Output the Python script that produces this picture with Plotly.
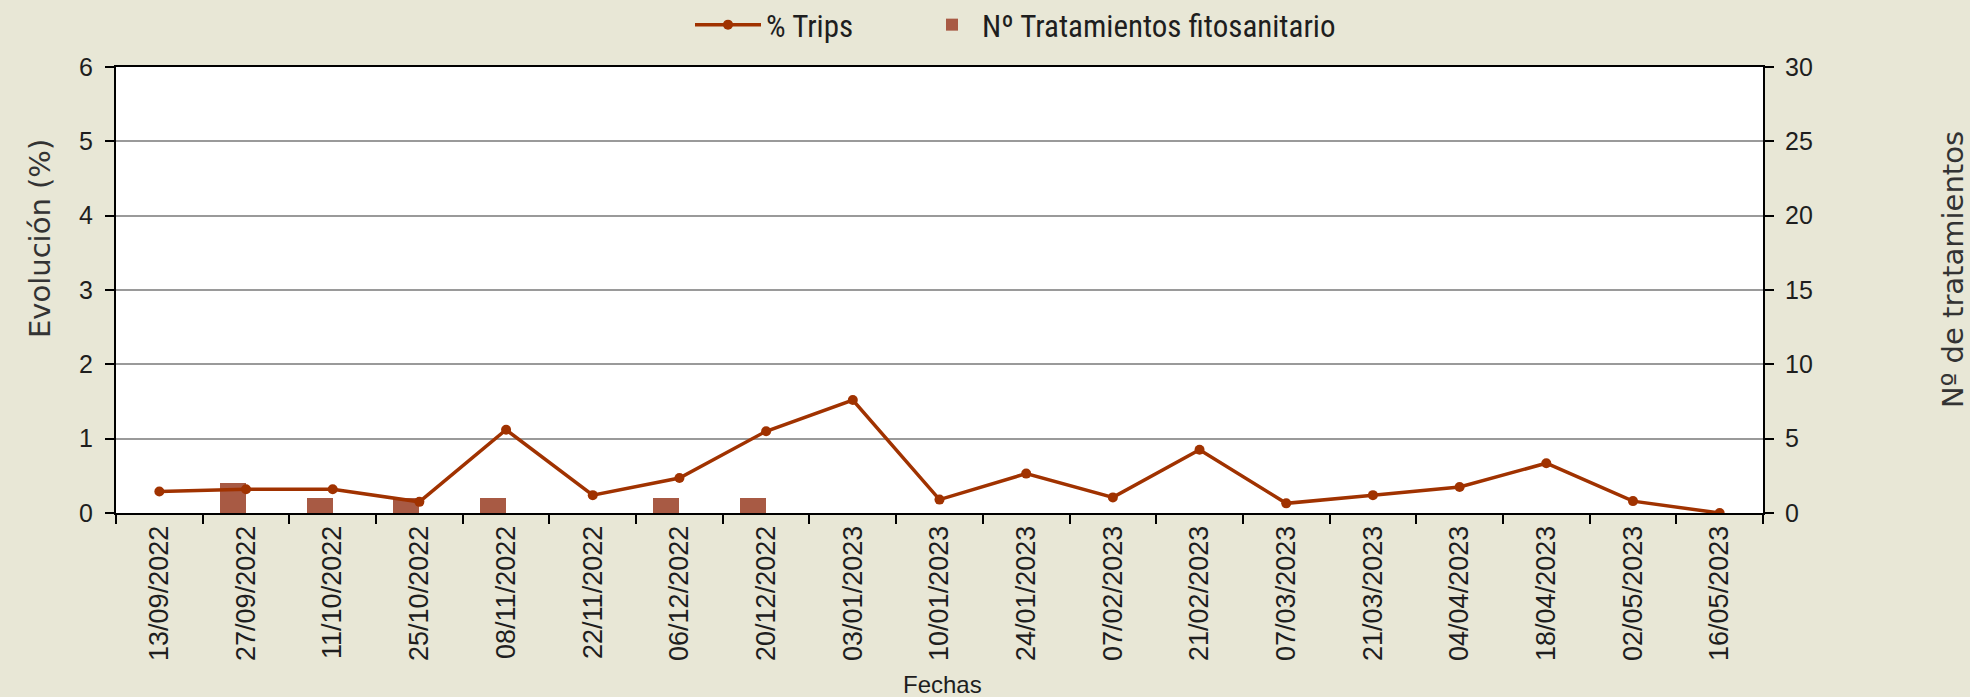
import plotly.graph_objects as go

fechas = ["13/09/2022", "27/09/2022", "11/10/2022", "25/10/2022", "08/11/2022",
          "22/11/2022", "06/12/2022", "20/12/2022", "03/01/2023", "10/01/2023",
          "24/01/2023", "07/02/2023", "21/02/2023", "07/03/2023", "21/03/2023",
          "04/04/2023", "18/04/2023", "02/05/2023", "16/05/2023"]
trips_pct = [0.29, 0.32, 0.32, 0.15, 1.12, 0.24, 0.47, 1.10, 1.52, 0.18,
             0.53, 0.21, 0.85, 0.13, 0.24, 0.35, 0.67, 0.16, 0.0]
tratamientos = [0, 2, 1, 1, 1, 0, 1, 1, 0, 0, 0, 0, 0, 0, 0, 0, 0, 0, 0]

BG = "#E8E7D6"
LINE_C = "#A03200"
BAR_C = "#A85A44"
TXT = "#1E1E1E"

L, R, T, B = 116, 207, 67, 184
W, H = 1970, 697

fig = go.Figure()
fig.add_trace(go.Bar(
    x=fechas, y=tratamientos, name="Nº Tratamientos fitosanitario",
    marker=dict(color=BAR_C, line=dict(width=0)),
    width=0.3, offset=-0.3, yaxis="y", xaxis="x", legend="legend2",
))
fig.add_trace(go.Scatter(
    x=fechas, y=trips_pct, name="% Trips", mode="lines+markers",
    line=dict(color=LINE_C, width=3.5),
    marker=dict(color=LINE_C, size=10),
    yaxis="y2", xaxis="x", legend="legend",
))

tick_font = dict(family="Liberation Sans, Arial, sans-serif", size=25, color=TXT)
legend_font = dict(family="Liberation Sans Narrow, Roboto Condensed, Arial Narrow, sans-serif",
                   size=31, color=TXT)

pw = W - L - R
ph = H - T - B


def px2paper(px, py):
    return (px - L) / pw, (H - B - py) / ph


ax1, ay1 = px2paper(40, 239)
ax2, ay2 = px2paper(1953, 270)
ax3, ay3 = px2paper(942, 684)
leg_y = px2paper(0, 25)[1]

fig.update_layout(
    width=W, height=H,
    paper_bgcolor=BG, plot_bgcolor="white",
    margin=dict(l=L, r=R, t=T, b=B, autoexpand=False),
    showlegend=True,
    legend=dict(orientation="h", x=px2paper(690, 0)[0], xanchor="left",
                y=leg_y, yanchor="middle", font=legend_font,
                bgcolor="rgba(0,0,0,0)", itemwidth=66),
    legend2=dict(orientation="h", x=px2paper(922, 0)[0], xanchor="left",
                 y=leg_y, yanchor="middle", font=legend_font,
                 bgcolor="rgba(0,0,0,0)", itemwidth=50),
    bargap=0,
    xaxis=dict(
        type="category", showline=True, linecolor="black", linewidth=2, mirror=True,
        ticks="outside", tickson="boundaries", ticklen=9, tickcolor="black", tickwidth=2,
        tickangle=-90, showgrid=False,
        tickfont=dict(family="Liberation Sans, Arial, sans-serif", size=27, color=TXT),
        range=[-0.5, 18.5],
    ),
    yaxis=dict(
        side="right", range=[0, 30], dtick=5, showline=True, linecolor="black", linewidth=2,
        ticks="outside", ticklen=9, tickcolor="black", tickwidth=2,
        showgrid=True, gridcolor="#9A9A9A", gridwidth=1.5, zeroline=False,
        tickfont=tick_font, ticklabelstandoff=6,
    ),
    yaxis2=dict(
        side="left", overlaying="y", range=[0, 6], dtick=1, showline=True, linecolor="black",
        linewidth=2, ticks="outside", ticklen=9, tickcolor="black", tickwidth=2,
        showgrid=False, zeroline=False, tickfont=tick_font, ticklabelstandoff=7,
    ),
    annotations=[
        dict(text="Evolución (%)", x=ax1, y=ay1, xref="paper", yref="paper", showarrow=False,
             textangle=-90, xanchor="center", yanchor="middle",
             font=dict(family="DejaVu Sans, Verdana, sans-serif", size=29, color="#333")),
        dict(text="Nº de tratamientos", x=ax2, y=ay2, xref="paper", yref="paper", showarrow=False,
             textangle=-90, xanchor="center", yanchor="middle",
             font=dict(family="DejaVu Sans, Verdana, sans-serif", size=29, color="#333")),
        dict(text="Fechas", x=ax3, y=ay3, xref="paper", yref="paper", showarrow=False,
             xanchor="center", yanchor="middle",
             font=dict(family="Liberation Sans Narrow, Arial Narrow, sans-serif", size=24, color=TXT)),
    ],
)

fig.write_html("out.html", config={"displayModeBar": False},
               post_script="document.body.style.margin='0';document.body.style.overflow='hidden';")
